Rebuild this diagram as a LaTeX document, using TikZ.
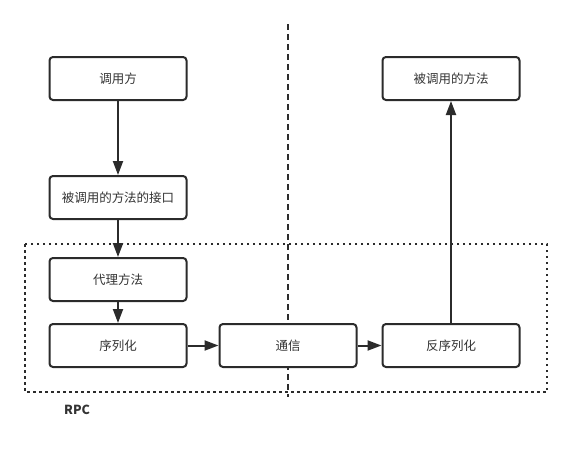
\documentclass[tikz,border=0pt]{standalone}
\usepackage{fontspec}
\newfontfamily\cjk{Noto Sans CJK SC}
\usetikzlibrary{arrows.meta}
\definecolor{txt}{HTML}{333333}
\definecolor{ln}{HTML}{2B2B2B}
\begin{document}
\begin{tikzpicture}[x=1pt,y=-1pt,
  box/.style={draw=ln,fill=white,line width=2pt,rounded corners=3.5pt,minimum width=137pt,minimum height=43pt,inner sep=0pt,font=\cjk\fontsize{12.5}{14}\selectfont,text=txt},
  conn/.style={draw=ln,line width=2pt,-{Triangle[length=14pt,width=10pt]}},
  divider/.style={draw=ln,line width=2pt,dash pattern=on 6pt off 4pt},
  rpcbox/.style={draw=ln,line width=2pt,dash pattern=on 2.5pt off 3.5pt}]
\useasboundingbox (0,0) rectangle (571,450);
\fill[white] (0,0) rectangle (571,450);
\draw[rpcbox] (25,244) rectangle (547,392);
\draw[divider] (288,24) -- (288,397);
\node[box] (caller) at (118,78.5) {调用方};
\node[box] (iface) at (118,197.5) {被调用的方法的接口};
\node[box] (proxy) at (118,279.5) {代理方法};
\node[box] (ser) at (118,345.5) {序列化};
\node[box] (comm) at (288,345.5) {通信};
\node[box] (deser) at (451,345.5) {反序列化};
\node[box] (callee) at (451,78.5) {被调用的方法};
\node[font=\cjk\bfseries\fontsize{12.5}{14}\selectfont,text=txt,anchor=west,inner sep=0pt] (rpc) at (64,410) {RPC};
\draw[conn] (caller) -- (iface);
\draw[conn] (iface) -- (proxy);
\draw[conn] (proxy) -- (ser);
\draw[conn] (ser) -- (comm);
\draw[conn] (comm) -- (deser);
\draw[conn] (deser) -- (callee);
\end{tikzpicture}
\end{document}
